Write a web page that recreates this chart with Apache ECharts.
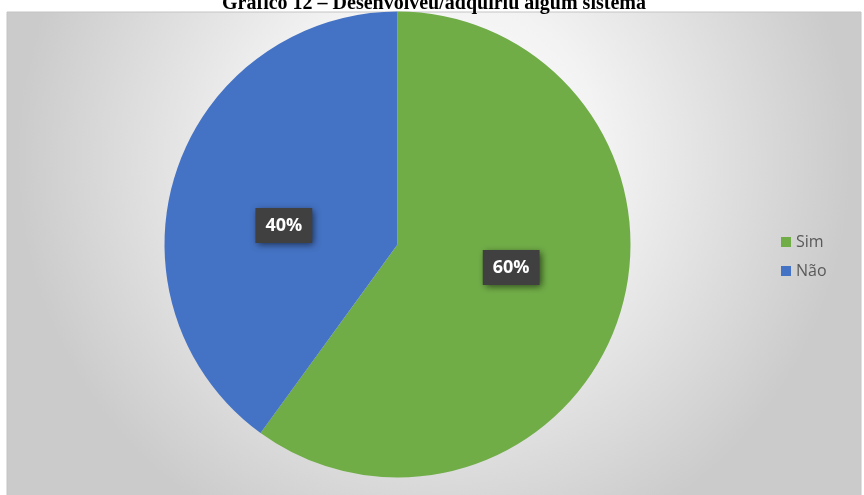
<!DOCTYPE html>
<html>
<head>
<meta charset="utf-8">
<script src="https://cdn.jsdelivr.net/npm/echarts@6/dist/echarts.min.js"></script>
<style>
  html, body { margin: 0; padding: 0; background: #ffffff; }
  #chart { width: 864px; height: 495px; }
</style>
</head>
<body>
<div id="chart"></div>
<script>
// Respostas: desenvolveu/adquiriu algum sistema
const categories = ['Sim', 'Não'];
const shares = [60, 40];
const colors = ['#70AD47', '#4472C4'];
const chartTitle = 'Gráfico 12 – Desenvolveu/adquiriu algum sistema';

const chart = echarts.init(document.getElementById('chart'), null, { renderer: 'canvas' });

const pieData = categories.map((name, i) => ({
  name: name,
  value: shares[i],
  itemStyle: { color: colors[i] }
}));

// data labels sit in a best-fit spot, pulled toward the horizontal
const labelShift = [-14, 18];

chart.setOption({
  backgroundColor: '#ffffff',
  animation: false,
  graphic: [
    {
      type: 'rect',
      z: -10,
      shape: { x: 7, y: 12, width: 854, height: 490 },
      style: {
        fill: {
          type: 'radial', x: 0.5, y: 0.3, r: 0.85,
          colorStops: [
            { offset: 0, color: '#ffffff' },
            { offset: 0.4, color: '#f3f3f3' },
            { offset: 1, color: '#cbcbcb' }
          ]
        },
        stroke: '#c4c4c4',
        lineWidth: 1
      }
    },
    {
      type: 'text',
      z: 10,
      x: 434,
      y: 14,
      style: {
        text: chartTitle,
        font: 'bold 20px "Liberation Serif", "Times New Roman", serif',
        fill: '#000000',
        align: 'center',
        verticalAlign: 'bottom'
      }
    }
  ],
  legend: {
    orient: 'vertical',
    left: 776,
    top: 229,
    icon: 'rect',
    itemWidth: 10,
    itemHeight: 10,
    itemGap: 13,
    textStyle: {
      color: '#595959',
      fontSize: 16,
      fontFamily: '"Open Sans", "Noto Sans", sans-serif'
    },
    data: categories
  },
  series: [
    {
      type: 'pie',
      center: [397.5, 244.5],
      radius: 233,
      startAngle: 90,
      clockwise: true,
      data: pieData,
      itemStyle: { borderWidth: 0 },
      label: {
        show: true,
        position: 'inside',
        formatter: '{c}%',
        color: '#ffffff',
        fontSize: 18,
        fontWeight: 'bold',
        fontFamily: '"Open Sans", "Noto Sans", sans-serif',
        backgroundColor: '#404040',
        padding: [9, 10, 8, 10],
        shadowColor: 'rgba(0,0,0,0.6)',
        shadowBlur: 7,
        shadowOffsetX: 2,
        shadowOffsetY: 2
      },
      labelLayout: function (p) {
        return { dy: labelShift[p.dataIndex] };
      },
      labelLine: { show: false },
      emphasis: { disabled: true }
    }
  ]
});
</script>
</body>
</html>
